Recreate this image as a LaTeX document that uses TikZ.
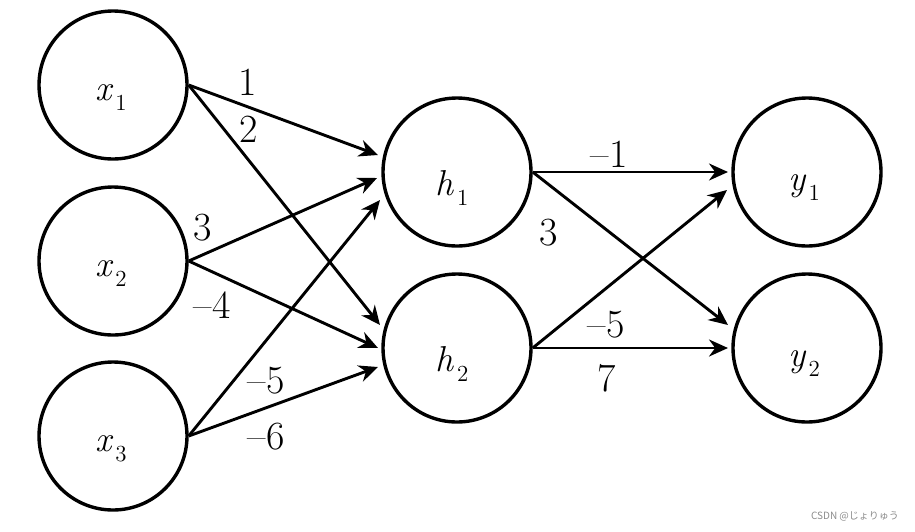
\documentclass[tikz,border=0pt]{standalone}
\usepackage{fontspec}
\newfontfamily\cjkfont{Noto Sans CJK JP}
\usetikzlibrary{arrows.meta,calc}
\newcommand{\nvar}[2]{{\itshape #1}\hspace{1.8pt}\raisebox{-5pt}{\fontsize{11.5}{12}\selectfont #2}}
\newcommand{\mn}{--}
\begin{document}
\begin{tikzpicture}[x=0.5pt,y=-0.5pt,
 neuron/.style={circle,draw,line width=1.7pt,minimum size=74pt,inner sep=0pt,fill=white},
 vtext/.style={font=\fontsize{18}{19}\selectfont, anchor=base, inner sep=0pt},
 wlabel/.style={font=\fontsize{20}{21}\selectfont, inner sep=0pt},
 conn/.style={line width=1.45pt,-{Stealth[length=9.5pt,width=8.5pt]}}]
\useasboundingbox (0,0) rectangle (915,531);

% neurons
\node[neuron] (x1) at (113,85) {};
\node[neuron] (x2) at (113,261) {};
\node[neuron] (x3) at (113,436) {};
\node[neuron] (h1) at (457,172) {};
\node[neuron] (h2) at (457,348) {};
\node[neuron] (y1) at (807,172) {};
\node[neuron] (y2) at (807,348) {};

% neuron texts
\node[vtext] (tx1) at ($(x1)+(-2,15)$) {\nvar{x}{1}};
\node[vtext] (tx2) at ($(x2)+(-2,15)$) {\nvar{x}{2}};
\node[vtext] (tx3) at ($(x3)+(-2,15)$) {\nvar{x}{3}};
\node[vtext] (th1) at ($(h1)+(-5,23)$) {\nvar{h}{1}};
\node[vtext] (th2) at ($(h2)+(-5,23)$) {\nvar{h}{2}};
\node[vtext] (ty1) at ($(y1)+(-3,18)$) {\nvar{y}{1}};
\node[vtext] (ty2) at ($(y2)+(-3,18)$) {\nvar{y}{2}};

% connections input -> hidden
\draw[conn] (x1.east) -- ($(h1)+(-79,-17)$);
\draw[conn] (x1.east) -- ($(h2)+(-77,-23)$);
\draw[conn] (x2.east) -- ($(h1)+(-80,6)$);
\draw[conn] (x2.east) -- ($(h2)+(-79,0)$);
\draw[conn] (x3.east) -- ($(h1)+(-77,28)$);
\draw[conn] (x3.east) -- ($(h2)+(-79,19)$);
% hidden -> output
\draw[conn] (h1.east) -- ($(y1)+(-79,0)$);
\draw[conn] (h1.east) -- ($(y2)+(-79,-23)$);
\draw[conn] (h2.east) -- ($(y1)+(-80,18)$);
\draw[conn] (h2.east) -- ($(y2)+(-79,0)$);

% weights
\node[wlabel] (w11) at (248,82) {1};
\node[wlabel] (w12) at (249,129) {2};
\node[wlabel] (w21) at (203,228) {3};
\node[wlabel] (w22) at (212,305) {\mn4};
\node[wlabel] (w31) at (266,381) {\mn5};
\node[wlabel] (w32) at (266,437) {\mn6};
\node[wlabel] (v11) at (609,154) {\mn1};
\node[wlabel] (v12) at (549,233) {3};
\node[wlabel] (v21) at (606,325) {\mn5};
\node[wlabel] (v22) at (607,378) {7};

% watermark
\node[font=\cjkfont\fontsize{5}{6}\selectfont, text=black!45, inner sep=0pt] (wm) at (855,516) {CSDN @じょりゅう};
\end{tikzpicture}
\end{document}
